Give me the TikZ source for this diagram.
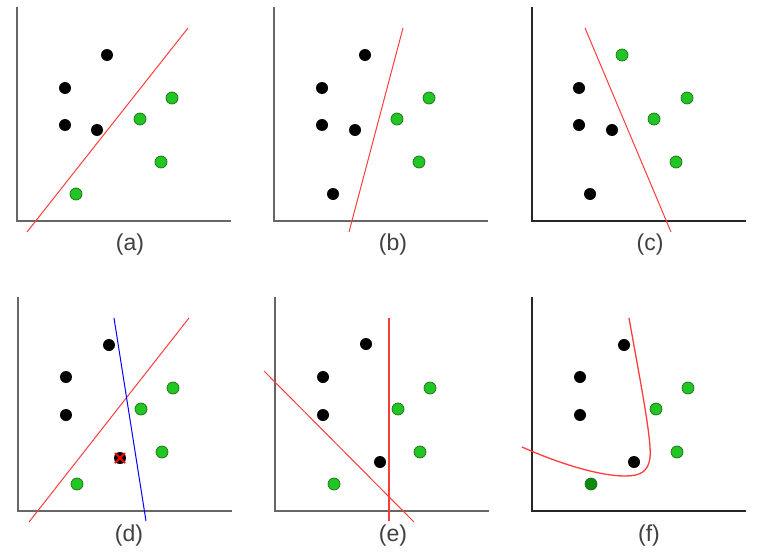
\documentclass[tikz,border=0pt]{standalone}
\usepackage{fontspec}
\setmainfont{Liberation Sans}
\definecolor{ptgreen}{HTML}{22C622}
\definecolor{ptdark}{HTML}{0E8A0E}
\definecolor{ptrim}{HTML}{1A6E1A}
\definecolor{cutred}{HTML}{FF3C3C}
\tikzset{
  blackpt/.style={circle,fill=black,minimum size=12pt,inner sep=0pt},
  greenpt/.style={circle,fill=ptgreen,draw=ptrim,line width=0.7pt,minimum size=12pt,inner sep=0pt},
  darkpt/.style={greenpt,fill=ptdark},
  axis/.style={draw=black!60,line width=1.8pt},
  cut/.style={draw=cutred,line width=1pt},
  caption/.style={text=black!75,font=\fontsize{23}{26}\selectfont}
}

\begin{document}
\begin{tikzpicture}[x=1pt, y=-1pt]
            \useasboundingbox (0,0) rectangle (758,554);
            % axes of the six panels
            \draw[axis] (17,7) -- (17,221) -- (231,221);
            \draw[axis] (274,7) -- (274,221) -- (488,221);
            \draw[axis,draw=black!85] (532,7) -- (532,221) -- (746,221);
            \draw[axis] (18,297) -- (18,511) -- (232,511);
            \draw[axis] (275,297) -- (275,511) -- (489,511);
            \draw[axis,draw=black!85] (532,297) -- (532,511) -- (746,511);

            % (a)
            \draw[cut] (27,232) -- (188,28);
            \node[blackpt] (A_1) at (107,55)  {};
            \node[blackpt] (A_2) at (65,88)   {};
            \node[blackpt] (A_3) at (65,125)  {};
            \node[blackpt] (A_4) at (97,130)  {};
            \node[greenpt] (A_5) at (172,98)  {};
            \node[greenpt] (A_6) at (140,119) {};
            \node[greenpt] (A_7) at (161,162) {};
            \node[greenpt] (A_8) at (76,194)  {};
            \node[caption] (L_a) at (130,245) {(a)};

            % (b)
            \draw[cut] (349,232) -- (403,28);
            \node[blackpt] (B_1) at (365,55)  {};
            \node[blackpt] (B_2) at (322,88)  {};
            \node[blackpt] (B_3) at (322,125) {};
            \node[blackpt] (B_4) at (355,130) {};
            \node[greenpt] (B_5) at (429,98)  {};
            \node[greenpt] (B_6) at (397,119) {};
            \node[greenpt] (B_7) at (419,162) {};
            \node[blackpt] (B_8) at (333,194) {};
            \node[caption] (L_b) at (393,245) {(b)};

            % (c)
            \draw[cut] (585,28) -- (671,232);
            \node[greenpt] (C_1) at (622,55)  {};
            \node[blackpt] (C_2) at (579,88)  {};
            \node[blackpt] (C_3) at (579,125) {};
            \node[blackpt] (C_4) at (612,130) {};
            \node[greenpt] (C_5) at (687,98)  {};
            \node[greenpt] (C_6) at (654,119) {};
            \node[greenpt] (C_7) at (676,162) {};
            \node[blackpt] (C_8) at (590,194) {};
            \node[caption] (L_c) at (650,245) {(c)};

            % (d)
            \draw[cut] (29,522) -- (189,318);
            \draw[cut,draw=blue] (114,318) -- (146,521);
            \node[blackpt] (D_1) at (109,345) {};
            \node[blackpt] (D_2) at (66,377)  {};
            \node[blackpt] (D_3) at (66,415)  {};
            \node[blackpt] (D_4) at (120,458) {};
            \node[greenpt] (D_5) at (173,388) {};
            \node[greenpt] (D_6) at (141,409) {};
            \node[greenpt] (D_7) at (162,452) {};
            \node[greenpt] (D_8) at (77,484)  {};
            \draw[red,line width=2pt] (D_4.center) ++(-5,-5) -- ++(10,10);
            \draw[red,line width=2pt] (D_4.center) ++(5,-5) -- ++(-10,10);
            \node[caption] (L_d) at (129,536) {(d)};

            % (e)
            \draw[cut] (264,371) -- (414,522);
            \draw[cut,line width=1.3pt] (389,318) -- (389,521);
            \node[blackpt] (E_1) at (366,344) {};
            \node[blackpt] (E_2) at (323,377) {};
            \node[blackpt] (E_3) at (323,415) {};
            \node[blackpt] (E_4) at (380,462) {};
            \node[greenpt] (E_5) at (430,388) {};
            \node[greenpt] (E_6) at (398,409) {};
            \node[greenpt] (E_7) at (420,452) {};
            \node[greenpt] (E_8) at (334,484) {};
            \node[caption] (L_e) at (393,536) {(e)};

            % (f)
            \draw[cut,line width=1.3pt] (629,318) .. controls (640,380) and (652,440) .. (650,458)
                .. controls (648,472) and (640,476) .. (625,476)
                .. controls (600,476) and (560,464) .. (522,447);
            \node[blackpt] (F_1) at (624,345) {};
            \node[blackpt] (F_2) at (580,377) {};
            \node[blackpt] (F_3) at (580,415) {};
            \node[blackpt] (F_4) at (634,462) {};
            \node[greenpt] (F_5) at (688,388) {};
            \node[greenpt] (F_6) at (656,409) {};
            \node[greenpt] (F_7) at (677,452) {};
            \node[darkpt]  (F_8) at (591,484) {};
            \node[caption] (L_f) at (649,536) {(f)};
        \end{tikzpicture}
\end{document}
